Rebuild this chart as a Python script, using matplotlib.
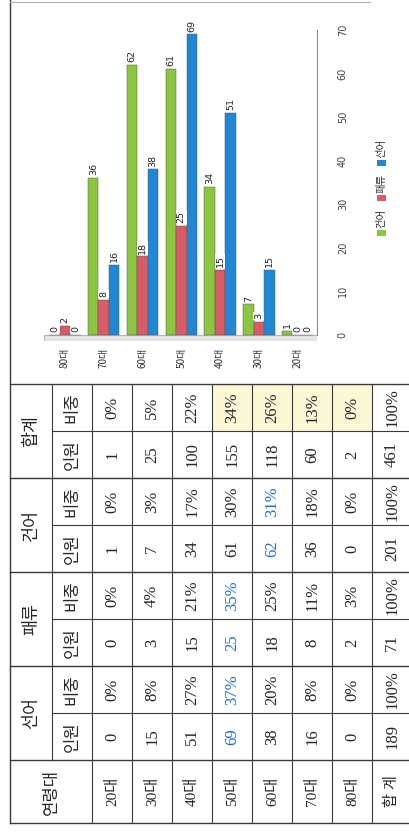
import matplotlib
matplotlib.use("Agg")
import matplotlib.pyplot as plt
from matplotlib.patches import Rectangle

# table data: one entry per age group, last one is the total row
ages = ["20대", "30대", "40대", "50대", "60대", "70대", "80대", "합 계"]
seoneo_n = [0, 15, 51, 69, 38, 16, 0, 189]
seoneo_p = [0, 8, 27, 37, 20, 8, 0, 100]
paeryu_n = [0, 3, 15, 25, 18, 8, 2, 71]
paeryu_p = [0, 4, 21, 35, 25, 11, 3, 100]
geoneo_n = [1, 7, 34, 61, 62, 36, 0, 201]
geoneo_p = [0, 3, 17, 30, 31, 18, 0, 100]
total_n = [1, 25, 100, 155, 118, 60, 2, 461]
total_p = [0, 5, 22, 34, 26, 13, 0, 100]

groups = ["선어", "패류", "건어", "합계"]
sub_heads = ["인원", "비중"]
blue_cells = [("선어", "50대"), ("패류", "50대"), ("건어", "60대")]
yellow_ages = ["50대", "60대", "70대", "80대"]   # 합계 비중 shaded cells

# chart: 80대 ... 20대 from left to right, series as in legend
chart_cats = ages[6::-1]
series = ["건어", "패류", "선어"]
series_vals = [geoneo_n[6::-1], paeryu_n[6::-1], seoneo_n[6::-1]]
colors = ["#8cc540", "#d85b66", "#1f87d4"]

KR = ["Noto Sans CJK KR", "DejaVu Sans"]
NUM = ["Liberation Serif", "Noto Sans CJK KR"]
INK = "#262626"
BLUE_TXT = "#1c6fd1"

W, H = 409, 833
fig = plt.figure(figsize=(W / 100, H / 100), dpi=100)
fig.patch.set_facecolor("white")

# background axes in pixel coords (page, table)
bg = fig.add_axes([0, 0, 1, 1])
bg.set_xlim(0, W)
bg.set_ylim(H, 0)
bg.axis("off")

# page is rotated: table rows run left->right, columns bottom->top
x0, xg, xd, cw = 10, 52, 92, 40
y_top, rh = 384, 47
y_bot = 823

cols = {
    "선어": (seoneo_n, seoneo_p),
    "패류": (paeryu_n, paeryu_p),
    "건어": (geoneo_n, geoneo_p),
    "합계": (total_n, total_p),
}

# shaded cells
for a in yellow_ages:
    i = ages.index(a)
    bg.add_patch(Rectangle((xd + cw * i, y_top), cw, rh, facecolor="#fbf8d6",
                           edgecolor="none", zorder=0))

# grid lines
lc = "#3a3a3a"
for k in range(5):
    bg.plot([x0, W + 5], [y_top + 2 * rh * k] * 2, color=lc, lw=1.0)
    if k < 4:
        bg.plot([xg, W + 5], [y_top + 2 * rh * k + rh] * 2, color=lc, lw=0.8)
bg.plot([x0, W + 5], [y_bot, y_bot], color=lc, lw=1.0)
bg.plot([x0, x0], [0, y_bot], color=lc, lw=1.0)
bg.plot([xg, xg], [y_top, y_top + 8 * rh], color=lc, lw=0.8)
for i in range(len(ages)):
    bg.plot([xd + cw * i] * 2, [y_top, y_bot], color=lc, lw=0.8)
bg.plot([x0, 370], [2, 2], color="#b0b0b0", lw=0.8)

# header cells
for gi, g in enumerate(groups):
    gy = y_top + 2 * rh * (3 - gi)
    bg.text((x0 + xg) / 2, gy + rh, g, rotation=90, ha="center", va="center",
            fontsize=12.5, family=KR, color=INK)
    for si, s in enumerate(sub_heads):
        cy = gy + rh * (1.5 - si)
        bg.text((xg + xd) / 2, cy, s, rotation=90, ha="center", va="center",
                fontsize=12, family=KR, color=INK)
bg.text((x0 + xd) / 2, (y_top + 8 * rh + y_bot) / 2, "연령대", rotation=90,
        ha="center", va="center", fontsize=12, family=KR, color=INK)

# body cells
for i, a in enumerate(ages):
    cx = xd + cw * i + cw / 2
    bg.text(cx, (y_top + 8 * rh + y_bot) / 2, a, rotation=90, ha="center",
            va="center", fontsize=11, family=NUM, color=INK)
    for gi, g in enumerate(groups):
        gy = y_top + 2 * rh * (3 - gi)
        n, p = cols[g]
        c = BLUE_TXT if (g, a) in blue_cells else INK
        bg.text(cx, gy + 1.5 * rh, str(n[i]), rotation=90, ha="center",
                va="center", fontsize=12, family=NUM, color=c)
        bg.text(cx, gy + 0.5 * rh, f"{p[i]}%", rotation=90, ha="center",
                va="center", fontsize=12, family=NUM, color=c)

# legend (rotated with the page)
for k, (s, c) in enumerate(zip(series, colors)):
    sy = 236 - 35 * k
    bg.add_patch(Rectangle((377, sy - 6), 9, 6, facecolor=c, edgecolor="none"))
    bg.text(381.5, sy - 8, s, rotation=90, ha="center", va="bottom",
            fontsize=7.5, family=KR, color="#333333")

# bar chart
ax = fig.add_axes([44 / W, 1 - 341 / H, (317 - 44) / W, (341 - 30) / H])
ax.set_facecolor("none")
bw = 0.27
pos = list(range(len(chart_cats)))
for k, (vals, c) in enumerate(zip(series_vals, colors)):
    xs = [p + (k - 1) * bw for p in pos]
    ax.bar(xs, vals, width=bw, color=c, edgecolor="#5a5a5a", linewidth=0.35,
           zorder=2)
    for x, v in zip(xs, vals):
        ax.annotate(str(v), (x, v), xytext=(0, 2), textcoords="offset points",
                    rotation=90, ha="center", va="bottom", fontsize=6.8,
                    color="#222222", zorder=4,
                    bbox=dict(boxstyle="square,pad=0.1", fc="white", ec="none"))

ax.axhspan(-1.4, 0, facecolor="#e4e4e4", edgecolor="#9a9a9a", lw=0.5, zorder=1)
ax.set_xlim(-0.54, 6.5)
ax.set_ylim(-1.4, 70)
ax.set_yticks(range(0, 71, 10))
ax.yaxis.tick_right()
ax.tick_params(axis="y", length=0, pad=15, labelsize=7, labelcolor="#444444",
               labelrotation=90)
for t in ax.get_yticklabels():
    t.set_va("center")
ax.set_xticks(pos)
ax.set_xticklabels(chart_cats, rotation=90, fontsize=7.2, family=KR,
                   color="#333333")
ax.tick_params(axis="x", length=0, pad=5)
for sp in ["top", "left", "bottom"]:
    ax.spines[sp].set_visible(False)
ax.spines["right"].set_color("#8a8a8a")
ax.spines["right"].set_linewidth(0.8)
ax.spines["right"].set_bounds(0, 70)

fig.savefig("out.png", dpi=100)
